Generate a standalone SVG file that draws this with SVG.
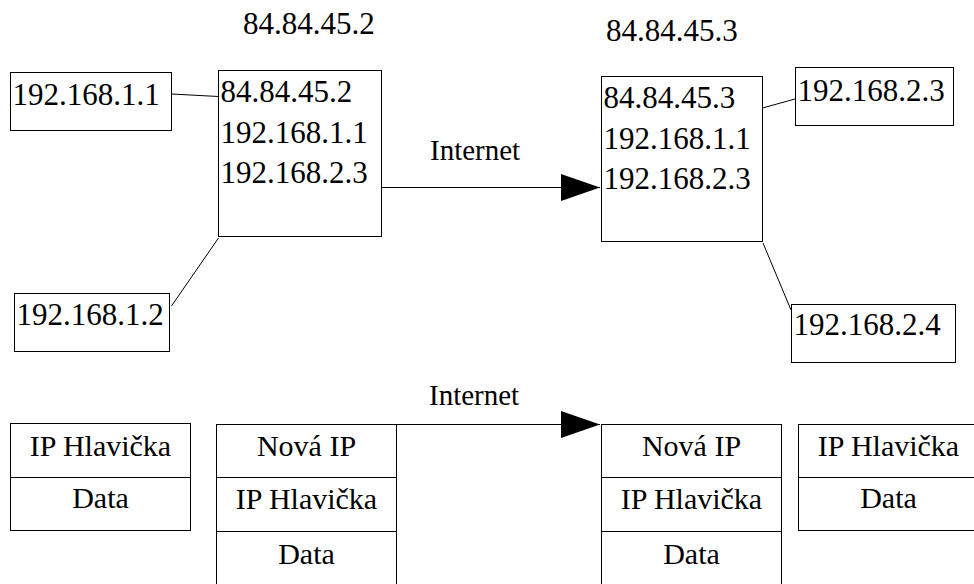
<svg xmlns="http://www.w3.org/2000/svg" width="974" height="584" viewBox="0 0 974 584">
<style>
rect,line{fill:#fff;stroke:#000;stroke-width:1}
line{fill:none}
rect.bg{stroke:none}
text{font-family:"Liberation Serif","Times New Roman",serif;font-size:31px;fill:#000}
.c{text-anchor:middle;font-size:30px}
.lbl{font-size:29px}
</style>
<defs>
<marker id="ah" markerWidth="40" markerHeight="27" refX="39" refY="13.5" markerUnits="userSpaceOnUse" orient="auto">
<polygon points="0,0 39,13.5 0,27" fill="#000"/>
</marker>
</defs>
<rect class="bg" width="974" height="584"/>
<g id="connectors">
<line x1="171.5" y1="94" x2="218.5" y2="96.5"/>
<line x1="218.5" y1="238" x2="171.5" y2="306"/>
<line x1="762.5" y1="108" x2="795" y2="99"/>
<line x1="763" y1="243" x2="791" y2="310"/>
<line x1="381.5" y1="187.5" x2="600" y2="187.5" marker-end="url(#ah)"/>
<line x1="396.5" y1="424.5" x2="600" y2="424.5" marker-end="url(#ah)"/>
</g>
<g id="label-left"><text x="243" y="34">84.84.45.2</text></g>
<g id="label-right"><text x="606" y="41">84.84.45.3</text></g>
<g id="label-internet-top"><text class="lbl" x="430" y="160">Internet</text></g>
<g id="label-internet-bottom"><text class="lbl" x="429" y="405">Internet</text></g>
<g id="host-1-1"><rect x="10.5" y="72.5" width="161" height="58"/><text x="12.5" y="105">192.168.1.1</text></g>
<g id="host-1-2"><rect x="14.5" y="293.5" width="155" height="58"/><text x="16.5" y="325">192.168.1.2</text></g>
<g id="router-left"><rect x="218.5" y="70.5" width="163" height="166"/>
<text x="220.5" y="102">84.84.45.2</text><text x="220.5" y="143">192.168.1.1</text><text x="220.5" y="183">192.168.2.3</text></g>
<g id="router-right"><rect x="601.5" y="76.5" width="161" height="165"/>
<text x="603.5" y="108">84.84.45.3</text><text x="603.5" y="149">192.168.1.1</text><text x="603.5" y="189">192.168.2.3</text></g>
<g id="host-2-3"><rect x="795.5" y="67.5" width="158" height="58"/><text x="797.5" y="101">192.168.2.3</text></g>
<g id="host-2-4"><rect x="791.5" y="304.5" width="164" height="58"/><text x="793.5" y="335">192.168.2.4</text></g>
<g id="packet-1"><rect x="10.5" y="423.5" width="180" height="107"/><line x1="10.5" y1="477.5" x2="190.5" y2="477.5"/>
<text class="c" x="100.5" y="456">IP Hlavička</text><text class="c" x="100.5" y="508">Data</text></g>
<g id="packet-2"><rect x="216.5" y="424.5" width="180" height="170"/><line x1="216.5" y1="477.5" x2="396.5" y2="477.5"/><line x1="216.5" y1="531.5" x2="396.5" y2="531.5"/>
<text class="c" x="306.5" y="456">Nová IP</text><text class="c" x="306.5" y="509">IP Hlavička</text><text class="c" x="306.5" y="564">Data</text></g>
<g id="packet-3"><rect x="601.5" y="424.5" width="180" height="170"/><line x1="601.5" y1="477.5" x2="781.5" y2="477.5"/><line x1="601.5" y1="531.5" x2="781.5" y2="531.5"/>
<text class="c" x="691.5" y="456">Nová IP</text><text class="c" x="691.5" y="509">IP Hlavička</text><text class="c" x="691.5" y="564">Data</text></g>
<g id="packet-4"><rect x="798.5" y="424.5" width="180" height="106"/><line x1="798.5" y1="477.5" x2="978.5" y2="477.5"/>
<text class="c" x="888.5" y="456">IP Hlavička</text><text class="c" x="888.5" y="508">Data</text></g>
</svg>
